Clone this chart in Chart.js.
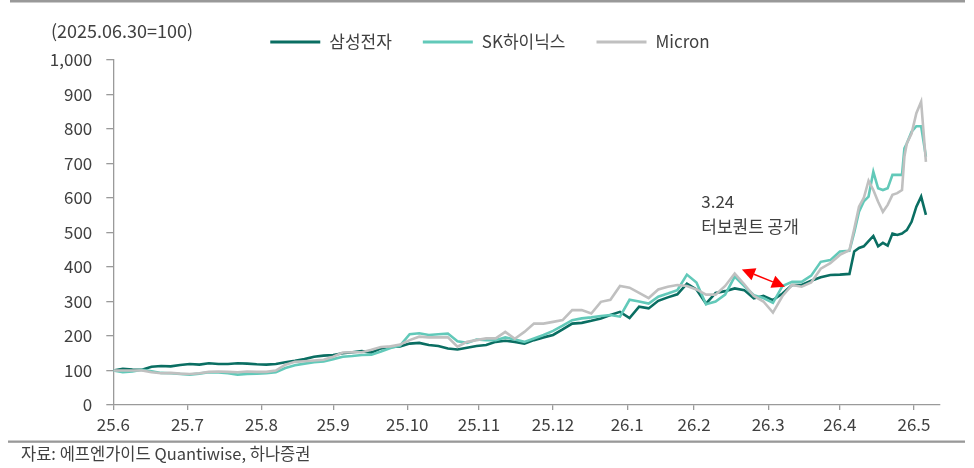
<!DOCTYPE html>
<html><head><meta charset="utf-8">
<script src="https://cdn.jsdelivr.net/npm/chart.js@4.4.1/dist/chart.umd.min.js"></script>
<style>html,body{margin:0;padding:0;background:#fff}#wrap{width:974px;height:468px;position:relative}</style>
</head><body><div id="wrap"><canvas id="c" width="974" height="468"></canvas></div>
<script>
// Days since 2025-06-30 (base date = 100)
const days = [0,4,8,12,16,20,24,28,32,36,40,44,48,52,56,60,64,68,72,76,80,84,88,92,96,100,104,108,112,116,120,
  124,128,132,136,140,144,148,152,156,160,164,168,172,176,180,184,188,192,196,200,204,208,212,216,220,224,228,232,236,
  240,244,248,252,256,260,264,268,272,276,280,284,288,292,
  296,300,304,308,310,312,314,316,318,320,322,324,326,328,330,331,332,334,336,338,340];
const samsung = [100,105,103,102,111,113,112,116,119,117,121,119,119,121,120,118,117,119,124,128,133,140,143,145,150,153,156,152,164,168,170,
  178,180,174,171,164,161,166,171,174,183,186,183,178,188,196,203,219,236,238,244,251,261,270,252,285,280,302,312,321,
  352,335,294,325,330,338,333,309,316,304,323,348,348,360,
  370,377,378,380,445,455,460,475,490,460,470,462,497,493,497,502,507,531,575,604,551];
const skhynix = [100,95,97,102,98,93,92,90,88,91,95,94,92,88,90,91,92,95,107,115,120,124,126,133,140,142,145,146,155,165,172,
  205,208,203,205,207,185,180,190,188,188,196,190,183,193,203,215,230,246,251,254,258,261,256,305,300,294,314,323,333,
  378,355,292,300,320,372,345,318,310,296,345,357,357,375,
  415,420,445,447,500,560,590,604,676,628,623,628,667,667,667,744,758,792,808,808,720];
const micron = [100,100,100,100,95,92,93,91,90,92,96,97,96,95,97,96,96,100,117,125,127,129,131,140,152,153,153,160,168,170,175,
  188,198,196,196,196,169,183,188,193,193,212,192,212,236,236,241,246,275,275,265,299,305,345,340,325,310,335,343,348,
  345,335,320,320,345,381,350,316,300,268,316,348,343,355,
  395,411,435,449,510,575,600,650,623,589,560,580,609,614,623,720,758,787,846,879,705];
const seriesNames = ['삼성전자','SK하이닉스','Micron'];
const tickDays = [0,31,62,92,123,153,184,215,243,274,304,335];
const tickLabels = ['25.6','25.7','25.8','25.9','25.10','25.11','25.12','26.1','26.2','26.3','26.4','26.5'];
const unitLabel = '(2025.06.30=100)';
const sourceText = '자료: 에프엔가이드 Quantiwise, 하나증권';
const noteDate = '3.24';
const noteText = '터보퀀트 공개';
const noteAnchor = [246, 590];      // day, value (text position)
const arrowFrom = [263, 393];       // day, value
const arrowTo = [281, 343];         // day, value

const FONT = "'Noto Sans CJK KR','Noto Sans',sans-serif";
const TXT = '#404040';
const AXIS = '#9a9a9a';
const colors = ['#0a6e62','#62c9b9','#c0c0c0'];
const series = [samsung, skhynix, micron];

const extras = {
  id: 'extras',
  afterDraw(chart) {
    const ctx = chart.ctx, xs = chart.scales.x, ys = chart.scales.y;
    ctx.save();
    ctx.fillStyle = '#999';
    ctx.fillRect(10, 0, 955, 2.5);
    ctx.fillRect(8, 440.5, 957, 2.3);
    ctx.fillStyle = TXT;
    ctx.textBaseline = 'middle';
    ctx.textAlign = 'left';
    ctx.font = '16.5px ' + FONT;
    ctx.fillText(sourceText, 21, 454);
    ctx.font = '18px ' + FONT;
    ctx.fillText(unitLabel, 51, 31);
    ctx.font = '17px ' + FONT;
    // legend
    const lineLen = 50, gapT = 9, gapI = 31;
    const dsets = chart.data.datasets;
    let total = 0;
    const widths = dsets.map(d => ctx.measureText(d.label).width);
    widths.forEach(w => total += lineLen + gapT + w);
    total += gapI * (dsets.length - 1);
    let x = 490 - total / 2;
    const ly = 42;
    dsets.forEach((d, i) => {
      ctx.strokeStyle = d.borderColor; ctx.lineWidth = 3;
      ctx.beginPath(); ctx.moveTo(x, ly); ctx.lineTo(x + lineLen, ly); ctx.stroke();
      x += lineLen + gapT;
      ctx.fillStyle = TXT;
      ctx.fillText(d.label, x, ly);
      x += widths[i] + gapI;
    });
    // annotation text
    const tx = xs.getPixelForValue(noteAnchor[0]);
    const ty = ys.getPixelForValue(noteAnchor[1]);
    ctx.fillText(noteDate, tx, ty);
    ctx.fillText(noteText, tx, ty + 25);
    // double arrow
    const x1 = xs.getPixelForValue(arrowFrom[0]), y1 = ys.getPixelForValue(arrowFrom[1]);
    const x2 = xs.getPixelForValue(arrowTo[0]), y2 = ys.getPixelForValue(arrowTo[1]);
    const ang = Math.atan2(y2 - y1, x2 - x1);
    const hl = 13, hw = 6.5;
    ctx.strokeStyle = '#ff0000'; ctx.fillStyle = '#ff0000'; ctx.lineWidth = 1.5;
    ctx.beginPath();
    ctx.moveTo(x1 + Math.cos(ang) * hl, y1 + Math.sin(ang) * hl);
    ctx.lineTo(x2 - Math.cos(ang) * hl, y2 - Math.sin(ang) * hl);
    ctx.stroke();
    const head = (px, py, a) => {
      ctx.beginPath();
      ctx.moveTo(px, py);
      ctx.lineTo(px - Math.cos(a) * hl - Math.sin(a) * hw, py - Math.sin(a) * hl + Math.cos(a) * hw);
      ctx.lineTo(px - Math.cos(a) * hl + Math.sin(a) * hw, py - Math.sin(a) * hl - Math.cos(a) * hw);
      ctx.closePath(); ctx.fill();
    };
    head(x2, y2, ang);
    head(x1, y1, ang + Math.PI);
    ctx.restore();
  }
};

new Chart(document.getElementById('c'), {
  type: 'line',
  data: {
    datasets: series.map((s, i) => ({
      label: seriesNames[i],
      data: days.map((d, j) => ({ x: d, y: s[j] })),
      borderColor: colors[i],
      borderWidth: 2.6,
      pointRadius: 0,
      tension: 0,
      fill: false,
      order: 3 - i
    }))
  },
  options: {
    responsive: false,
    animation: false,
    devicePixelRatio: 1,
    layout: { padding: { left: 0, right: 34.7, top: 60, bottom: 0 } },
    plugins: { legend: { display: false }, tooltip: { enabled: false } },
    scales: {
      x: {
        type: 'linear', min: 0, max: 345.6,
        afterBuildTicks: (s) => { s.ticks = tickDays.map(v => ({ value: v })); },
        afterFit: (s) => { s.height = 63; },
        ticks: {
          autoSkip: false, maxRotation: 0, padding: 4,
          color: TXT, font: { family: FONT, size: 17 },
          callback: (v, i) => tickLabels[i]
        },
        grid: { display: true, drawOnChartArea: false, drawTicks: true, tickLength: 5, color: AXIS, lineWidth: 1.3 },
        border: { display: true, color: AXIS, width: 1.3 }
      },
      y: {
        min: 0, max: 1000,
        afterFit: (s) => { s.width = 113.3; },
        ticks: {
          stepSize: 100, padding: 14, color: TXT, font: { family: FONT, size: 17 },
          callback: (v) => v.toLocaleString('en-US')
        },
        grid: { display: true, drawOnChartArea: false, drawTicks: true, tickLength: 7, color: AXIS, lineWidth: 1.3 },
        border: { display: true, color: AXIS, width: 1.3 }
      }
    }
  },
  plugins: [extras]
});
</script></body></html>
